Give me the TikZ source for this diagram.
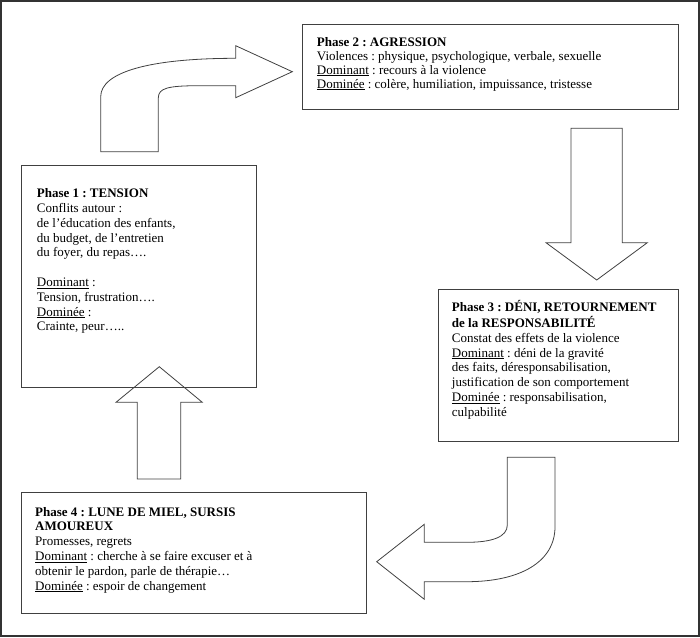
\documentclass[tikz,border=0pt]{standalone}
\usepackage{fontspec}
\setmainfont{Liberation Serif}
\frenchspacing
\newsavebox\ulbox
\newcommand\ulx[1]{\sbox\ulbox{#1}\rlap{\rule[-1.6pt]{\wd\ulbox}{0.6pt}}\usebox\ulbox}
\begin{document}
\frenchspacing
\begin{tikzpicture}[x=1pt,y=-1pt,
  box/.style={draw=black!75, line width=0.8pt, anchor=north west, inner sep=0pt},
  blockarrow/.style={draw=black!75, line width=0.8pt, line join=miter},
  txt/.style={anchor=north west, inner sep=0pt, font=\fontsize{13}{14.8}\selectfont\frenchspacing},
  txttwo/.style={anchor=north west, inner sep=0pt, font=\fontsize{13}{14}\selectfont\frenchspacing}]
\useasboundingbox (0,0) rectangle (700,637);
\draw[line width=2pt, draw=black!80] (1,1) rectangle (699,636);

% boxes
\node[box, minimum width=234.7pt, minimum height=222pt] (p1) at (21,165) {};
\node[box, minimum width=376.6pt, minimum height=85.3pt] (p2) at (301.7,23.7) {};
\node[box, minimum width=240.8pt, minimum height=151.7pt] (p3) at (437.5,289) {};
\node[box, minimum width=344.4pt, minimum height=121pt] (p4) at (21.3,491.7) {};

% texts
\node[txt] (t1) at (36.7,187.2) {\begin{tabular}{@{}l@{}}
\textbf{Phase 1 : TENSION}\\
Conflits autour :\\
de l’éducation des enfants,\\
du budget, de l’entretien\\
du foyer, du repas….\\
\\
\ulx{Dominant} :\\
Tension, frustration….\\
\ulx{Dominée} :\\
Crainte, peur…..
\end{tabular}};

\node[txttwo] (t2) at (316.7,36.2) {\begin{tabular}{@{}l@{}}
\textbf{Phase 2 : AGRESSION}\\
Violences : physique, psychologique, verbale, sexuelle\\
\ulx{Dominant} : recours à la violence\\
\ulx{Dominée} : colère, humiliation, impuissance, tristesse
\end{tabular}};

\node[txt] (t3) at (451.7,300.6) {\begin{tabular}{@{}l@{}}
\textbf{Phase 3 : DÉNI, RETOURNEMENT}\\
\textbf{de la RESPONSABILITÉ}\\
Constat des effets de la violence\\
\ulx{Dominant} : déni de la gravité\\
des faits, déresponsabilisation,\\
justification de son comportement\\
\ulx{Dominée} : responsabilisation,\\
culpabilité
\end{tabular}};

\node[txt] (t4) at (35,505.6) {\begin{tabular}{@{}l@{}}
\textbf{Phase 4 : LUNE DE MIEL, SURSIS}\\
\textbf{AMOUREUX}\\
Promesses, regrets\\
\ulx{Dominant} : cherche à se faire excuser et à\\
obtenir le pardon, parle de thérapie…\\
\ulx{Dominée} : espoir de changement
\end{tabular}};

% arrow 1 : phase 1 -> phase 2
\draw[blockarrow] (100.7,151.7) -- (100.7,96.7)
  .. controls (100.7,72) and (150,58.3) .. (235.7,58.3)
  -- (235.7,45.7) -- (292.3,71.7) -- (235.7,97.7) -- (235.7,85.7) -- (200,85.7)
  .. controls (168,85.7) and (158.3,88) .. (158.3,98)
  -- (158.3,151.7) -- cycle;

% arrow 2 : phase 2 -> phase 3
\draw[blockarrow] (571,128.3) -- (622.3,128.3) -- (622.3,242.7) -- (647.3,242.7)
  -- (596.7,280) -- (546,242.7) -- (571,242.7) -- cycle;

% arrow 3 : phase 3 -> phase 4
\draw[blockarrow] (507.3,457.3) -- (555,457.3) -- (555,526.7)
  .. controls (555,562) and (520,581.7) .. (466.7,581.7)
  -- (424.3,581.7) -- (424.3,599.3) -- (376.7,561.7) -- (424.3,524.3)
  -- (424.3,542.3) -- (466.7,542.3)
  .. controls (492,542.3) and (507.3,537) .. (507.3,525) -- cycle;

% arrow 4 : phase 4 -> phase 1
\draw[blockarrow] (137.3,479) -- (137.3,402.3) -- (116,402.3) -- (159.3,366.7)
  -- (202.3,402.3) -- (180.7,402.3) -- (180.7,479) -- cycle;
\end{tikzpicture}
\end{document}
